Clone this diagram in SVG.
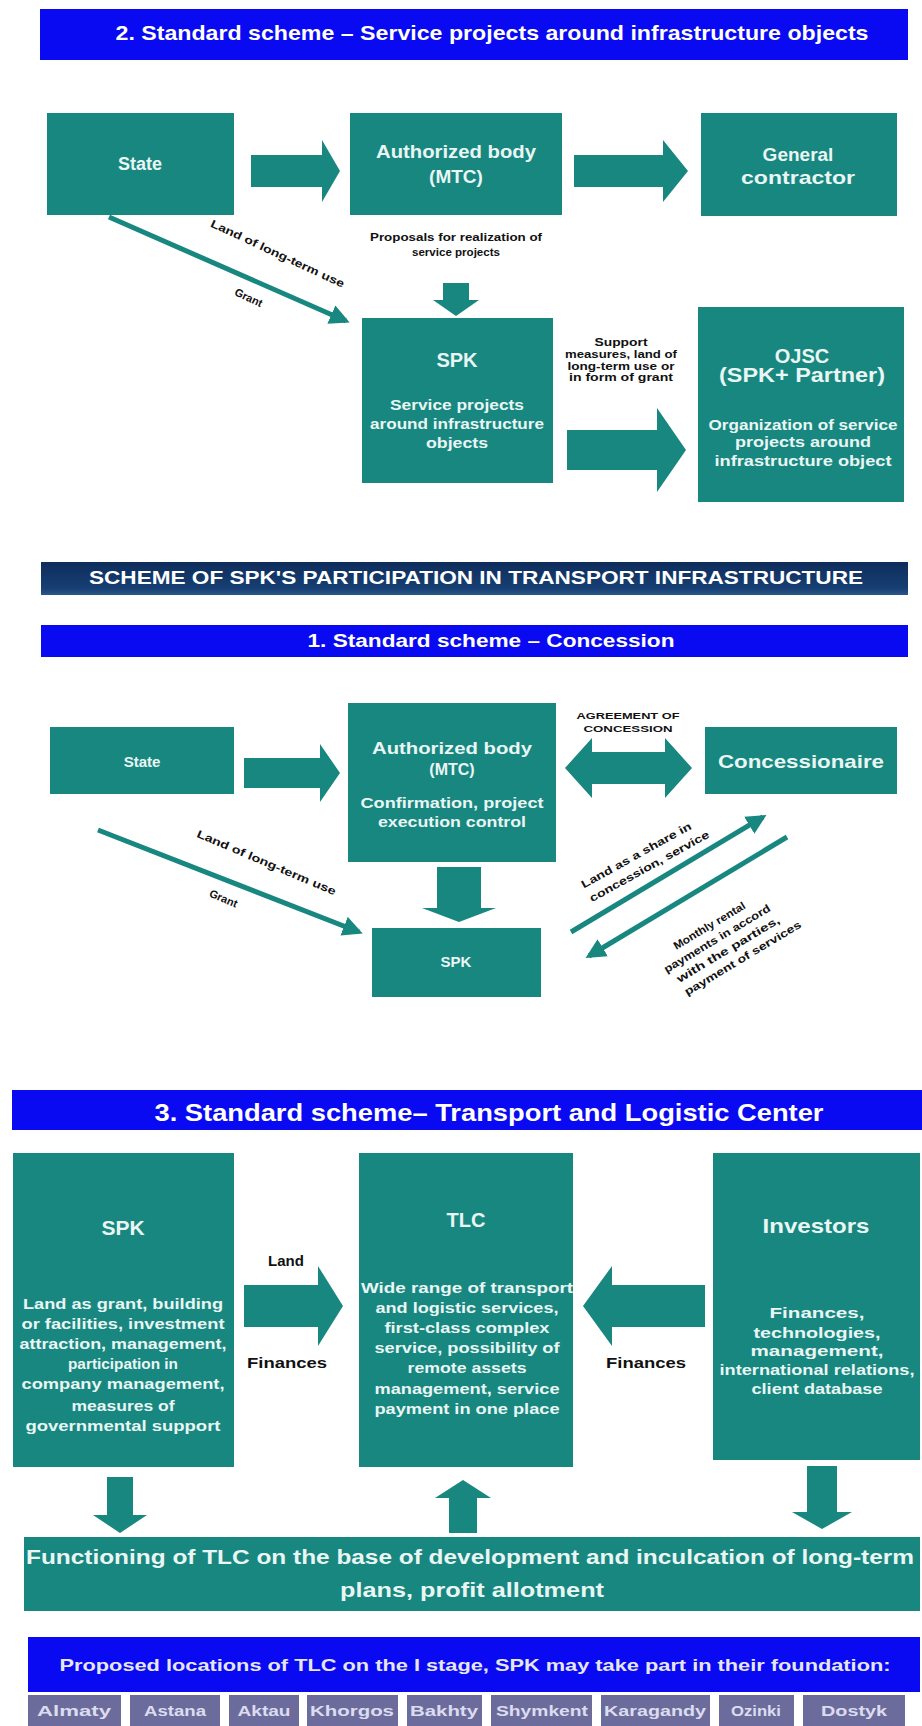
<svg xmlns="http://www.w3.org/2000/svg" width="922" height="1726" viewBox="0 0 922 1726">
  <defs>
    <style>
      text { font-family: "Liberation Sans", Arial, sans-serif; font-weight: bold; }
      .box { fill: #178780; }
      .blk { fill: #178780; }
      .bar { fill: #0a0af2; }
      .city { fill: #6c6c9c; }
      .wt { fill: #ffffff; text-anchor: middle; }
      .bt { fill: #eaf6f4; text-anchor: middle; }
      .lb { fill: #111111; text-anchor: middle; }
      .ct { fill: #dcdcf0; text-anchor: middle; font-size: 15px; }
      .ln { stroke: #178780; stroke-width: 5; fill: none; marker-end: url(#head); }
    </style>
    <marker id="head" viewBox="0 0 10 10" refX="8" refY="5" markerWidth="4" markerHeight="4" orient="auto">
      <path d="M0,0 L10,5 L0,10 z" fill="#178780"/>
    </marker>
    <linearGradient id="navy" x1="0" y1="0" x2="0" y2="1">
      <stop offset="0" stop-color="#0e2d5c"/>
      <stop offset="0.8" stop-color="#173f73"/>
      <stop offset="1" stop-color="#2a5688"/>
    </linearGradient>
  </defs>

  <rect width="922" height="1726" fill="#ffffff"/>

  <!-- ===== Scheme 2: service projects ===== -->
  <g id="title-scheme2">
    <rect class="bar" x="40" y="9" width="868" height="51"/>
    <text class="wt" x="492" y="40" font-size="21" textLength="753" lengthAdjust="spacingAndGlyphs">2.  Standard scheme – Service projects around infrastructure objects</text>
  </g>
  <g id="s2-state">
    <rect class="box" x="47" y="113" width="187" height="102"/>
    <text class="bt" x="140" y="170" font-size="18">State</text>
  </g>
  <g id="s2-mtc">
    <rect class="box" x="350" y="113" width="212" height="102"/>
    <text class="bt" x="456" y="158" font-size="19" textLength="160" lengthAdjust="spacingAndGlyphs">Authorized body</text>
    <text class="bt" x="456" y="183" font-size="19">(MTC)</text>
  </g>
  <g id="s2-contractor">
    <rect class="box" x="701" y="113" width="196" height="103"/>
    <text class="bt" x="798" y="161" font-size="19">General</text>
    <text class="bt" x="798" y="184" font-size="19" textLength="114" lengthAdjust="spacingAndGlyphs">contractor</text>
  </g>
  <g id="s2-spk">
    <rect class="box" x="362" y="318" width="191" height="165"/>
    <text class="bt" x="457" y="367" font-size="20">SPK</text>
    <text class="bt" x="457" y="410" font-size="15" textLength="134" lengthAdjust="spacingAndGlyphs">Service projects</text>
    <text class="bt" x="457" y="429" font-size="15" textLength="174" lengthAdjust="spacingAndGlyphs">around infrastructure</text>
    <text class="bt" x="457" y="448" font-size="15" textLength="62" lengthAdjust="spacingAndGlyphs">objects</text>
  </g>
  <g id="s2-ojsc">
    <rect class="box" x="698" y="307" width="206" height="195"/>
    <text class="bt" x="802" y="363" font-size="20">OJSC</text>
    <text class="bt" x="802" y="382" font-size="20" textLength="166" lengthAdjust="spacingAndGlyphs">(SPK+ Partner)</text>
    <text class="bt" x="803" y="430" font-size="15" textLength="189" lengthAdjust="spacingAndGlyphs">Organization of service</text>
    <text class="bt" x="803" y="447" font-size="15" textLength="136" lengthAdjust="spacingAndGlyphs">projects around</text>
    <text class="bt" x="803" y="466" font-size="15" textLength="177" lengthAdjust="spacingAndGlyphs">infrastructure object</text>
  </g>
  <g id="s2-connectors">
    <polygon class="blk" points="251,155 322,155 322,140 340,171 322,202 322,187 251,187"/>
    <polygon class="blk" points="574,155 663,155 663,140 688,171 663,202 663,187 574,187"/>
    <polygon class="blk" points="443,283 469,283 469,300 479,300 456,316 433,300 443,300"/>
    <polygon class="blk" points="567,430 657,430 657,408 686,450 657,492 657,470 567,470"/>
    <line class="ln" x1="109" y1="217" x2="346" y2="321"/>
    <text class="lb" font-size="11" transform="translate(276 257) rotate(25)" textLength="146" lengthAdjust="spacingAndGlyphs">Land of long-term use</text>
    <text class="lb" font-size="11" transform="translate(247 301) rotate(25)">Grant</text>
    <text class="lb" x="456" y="241" font-size="10" textLength="172" lengthAdjust="spacingAndGlyphs">Proposals for realization of</text>
    <text class="lb" x="456" y="256" font-size="10" textLength="88" lengthAdjust="spacingAndGlyphs">service projects</text>
    <text class="lb" x="621" y="346" font-size="11" textLength="53" lengthAdjust="spacingAndGlyphs">Support</text>
    <text class="lb" x="621" y="358" font-size="11" textLength="112" lengthAdjust="spacingAndGlyphs">measures, land of</text>
    <text class="lb" x="621" y="370" font-size="11" textLength="107" lengthAdjust="spacingAndGlyphs">long-term use or</text>
    <text class="lb" x="621" y="381" font-size="11" textLength="104" lengthAdjust="spacingAndGlyphs">in form of grant</text>
  </g>

  <!-- ===== Participation scheme / Scheme 1: concession ===== -->
  <g id="title-main">
    <rect x="41" y="562" width="867" height="33" fill="url(#navy)"/>
    <text class="wt" x="476" y="584" font-size="18" textLength="774" lengthAdjust="spacingAndGlyphs">SCHEME OF SPK'S PARTICIPATION IN TRANSPORT INFRASTRUCTURE</text>
  </g>
  <g id="title-scheme1">
    <rect class="bar" x="41" y="625" width="867" height="32"/>
    <text class="wt" x="491" y="647" font-size="18" textLength="367" lengthAdjust="spacingAndGlyphs">1.  Standard scheme – Concession</text>
  </g>
  <g id="s1-state">
    <rect class="box" x="50" y="727" width="184" height="67"/>
    <text class="bt" x="142" y="767" font-size="15">State</text>
  </g>
  <g id="s1-mtc">
    <rect class="box" x="348" y="703" width="208" height="159"/>
    <text class="bt" x="452" y="754" font-size="17" textLength="160" lengthAdjust="spacingAndGlyphs">Authorized body</text>
    <text class="bt" x="452" y="775" font-size="16">(MTC)</text>
    <text class="bt" x="452" y="808" font-size="15" textLength="183" lengthAdjust="spacingAndGlyphs">Confirmation, project</text>
    <text class="bt" x="452" y="827" font-size="15" textLength="148" lengthAdjust="spacingAndGlyphs">execution control</text>
  </g>
  <g id="s1-concessionaire">
    <rect class="box" x="705" y="727" width="192" height="67"/>
    <text class="bt" x="801" y="768" font-size="19" textLength="166" lengthAdjust="spacingAndGlyphs">Concessionaire</text>
  </g>
  <g id="s1-spk">
    <rect class="box" x="372" y="928" width="169" height="69"/>
    <text class="bt" x="456" y="967" font-size="15">SPK</text>
  </g>
  <g id="s1-connectors">
    <polygon class="blk" points="244,758 320,758 320,744 340,773 320,802 320,788 244,788"/>
    <polygon class="blk" points="565,768 592,738 592,752 665,752 665,738 692,768 665,798 665,784 592,784 592,798"/>
    <polygon class="blk" points="437,867 481,867 481,908 496,908 459,922 422,908 437,908"/>
    <line class="ln" x1="98" y1="830" x2="359" y2="932"/>
    <line class="ln" x1="571" y1="932" x2="763" y2="817"/>
    <line class="ln" x1="787" y1="837" x2="589" y2="956"/>
    <text class="lb" x="628" y="719" font-size="9" textLength="103" lengthAdjust="spacingAndGlyphs">AGREEMENT OF</text>
    <text class="lb" x="628" y="732" font-size="9" textLength="89" lengthAdjust="spacingAndGlyphs">CONCESSION</text>
    <text class="lb" font-size="11" transform="translate(265 866) rotate(23)" textLength="150" lengthAdjust="spacingAndGlyphs">Land of long-term use</text>
    <text class="lb" font-size="11" transform="translate(222 902) rotate(23)">Grant</text>
    <g transform="translate(640 862) rotate(-29)">
      <text class="lb" x="0" y="-4" font-size="11" textLength="124" lengthAdjust="spacingAndGlyphs">Land as a share in</text>
      <text class="lb" x="6" y="12" font-size="11" textLength="135" lengthAdjust="spacingAndGlyphs">concession, service</text>
    </g>
    <g transform="translate(725 944) rotate(-31)">
      <text class="lb" x="-4" y="-20" font-size="11" textLength="82" lengthAdjust="spacingAndGlyphs">Monthly rental</text>
      <text class="lb" x="-4" y="-5" font-size="11" textLength="122" lengthAdjust="spacingAndGlyphs">payments in accord</text>
      <text class="lb" x="0" y="10" font-size="11" textLength="118" lengthAdjust="spacingAndGlyphs">with the parties,</text>
      <text class="lb" x="8" y="25" font-size="11" textLength="134" lengthAdjust="spacingAndGlyphs">payment of services</text>
    </g>
  </g>

  <!-- ===== Scheme 3: transport and logistic center ===== -->
  <g id="title-scheme3">
    <rect class="bar" x="12" y="1090" width="910" height="40"/>
    <text class="wt" x="489" y="1121" font-size="24" textLength="669" lengthAdjust="spacingAndGlyphs">3. Standard scheme– Transport and Logistic Center</text>
  </g>
  <g id="s3-spk">
    <rect class="box" x="13" y="1153" width="221" height="314"/>
    <text class="bt" x="123" y="1235" font-size="21">SPK</text>
    <text class="bt" x="123" y="1309" font-size="15" textLength="200" lengthAdjust="spacingAndGlyphs">Land as grant, building</text>
    <text class="bt" x="123" y="1329" font-size="15" textLength="203" lengthAdjust="spacingAndGlyphs">or facilities, investment</text>
    <text class="bt" x="123" y="1349" font-size="15" textLength="207" lengthAdjust="spacingAndGlyphs">attraction, management,</text>
    <text class="bt" x="123" y="1369" font-size="15" textLength="110" lengthAdjust="spacingAndGlyphs">participation in</text>
    <text class="bt" x="123" y="1389" font-size="15" textLength="203" lengthAdjust="spacingAndGlyphs">company management,</text>
    <text class="bt" x="123" y="1411" font-size="15" textLength="103" lengthAdjust="spacingAndGlyphs">measures of</text>
    <text class="bt" x="123" y="1431" font-size="15" textLength="195" lengthAdjust="spacingAndGlyphs">governmental support</text>
  </g>
  <g id="s3-tlc">
    <rect class="box" x="359" y="1153" width="214" height="314"/>
    <text class="bt" x="466" y="1227" font-size="20">TLC</text>
    <text class="bt" x="467" y="1293" font-size="15" textLength="212" lengthAdjust="spacingAndGlyphs">Wide range of transport</text>
    <text class="bt" x="467" y="1313" font-size="15" textLength="183" lengthAdjust="spacingAndGlyphs">and logistic services,</text>
    <text class="bt" x="467" y="1333" font-size="15" textLength="165" lengthAdjust="spacingAndGlyphs">first-class complex</text>
    <text class="bt" x="467" y="1353" font-size="15" textLength="185" lengthAdjust="spacingAndGlyphs">service, possibility of</text>
    <text class="bt" x="467" y="1373" font-size="15" textLength="119" lengthAdjust="spacingAndGlyphs">remote assets</text>
    <text class="bt" x="467" y="1394" font-size="15" textLength="185" lengthAdjust="spacingAndGlyphs">management, service</text>
    <text class="bt" x="467" y="1414" font-size="15" textLength="185" lengthAdjust="spacingAndGlyphs">payment in one place</text>
  </g>
  <g id="s3-investors">
    <rect class="box" x="713" y="1153" width="207" height="307"/>
    <text class="bt" x="816" y="1233" font-size="21" textLength="107" lengthAdjust="spacingAndGlyphs">Investors</text>
    <text class="bt" x="817" y="1318" font-size="15" textLength="95" lengthAdjust="spacingAndGlyphs">Finances,</text>
    <text class="bt" x="817" y="1338" font-size="15" textLength="127" lengthAdjust="spacingAndGlyphs">technologies,</text>
    <text class="bt" x="817" y="1356" font-size="15" textLength="133" lengthAdjust="spacingAndGlyphs">management,</text>
    <text class="bt" x="817" y="1375" font-size="15" textLength="195" lengthAdjust="spacingAndGlyphs">international relations,</text>
    <text class="bt" x="817" y="1394" font-size="15" textLength="131" lengthAdjust="spacingAndGlyphs">client database</text>
  </g>
  <g id="s3-functioning">
    <rect class="box" x="24" y="1537" width="896" height="74"/>
    <text class="bt" x="470" y="1564" font-size="21" textLength="888" lengthAdjust="spacingAndGlyphs">Functioning of TLC on the base of development and inculcation of long-term</text>
    <text class="bt" x="472" y="1597" font-size="21" textLength="264" lengthAdjust="spacingAndGlyphs">plans, profit allotment</text>
  </g>
  <g id="s3-locations">
    <rect class="bar" x="28" y="1637" width="892" height="55"/>
    <text x="475" y="1671" font-size="17" fill="#e6e6f2" text-anchor="middle" textLength="831" lengthAdjust="spacingAndGlyphs">Proposed locations of TLC on the I stage, SPK may take part in their foundation:</text>
  </g>
  <g id="s3-cities">
    <rect class="city" x="28" y="1695" width="93" height="31"/>
    <text class="ct" x="74" y="1716" textLength="74" lengthAdjust="spacingAndGlyphs">Almaty</text>
    <rect class="city" x="130" y="1695" width="90" height="31"/>
    <text class="ct" x="175" y="1716" textLength="62" lengthAdjust="spacingAndGlyphs">Astana</text>
    <rect class="city" x="229" y="1695" width="70" height="31"/>
    <text class="ct" x="264" y="1716" textLength="53" lengthAdjust="spacingAndGlyphs">Aktau</text>
    <rect class="city" x="307" y="1695" width="91" height="31"/>
    <text class="ct" x="352" y="1716" textLength="84" lengthAdjust="spacingAndGlyphs">Khorgos</text>
    <rect class="city" x="407" y="1695" width="75" height="31"/>
    <text class="ct" x="444" y="1716" textLength="68" lengthAdjust="spacingAndGlyphs">Bakhty</text>
    <rect class="city" x="491" y="1695" width="101" height="31"/>
    <text class="ct" x="542" y="1716" textLength="92" lengthAdjust="spacingAndGlyphs">Shymkent</text>
    <rect class="city" x="601" y="1695" width="109" height="31"/>
    <text class="ct" x="655" y="1716" textLength="102" lengthAdjust="spacingAndGlyphs">Karagandy</text>
    <rect class="city" x="719" y="1695" width="75" height="31"/>
    <text class="ct" x="756" y="1716" textLength="50" lengthAdjust="spacingAndGlyphs">Ozinki</text>
    <rect class="city" x="803" y="1695" width="102" height="31"/>
    <text class="ct" x="854" y="1716" textLength="66" lengthAdjust="spacingAndGlyphs">Dostyk</text>
  </g>
  <g id="s3-connectors">
    <polygon class="blk" points="244,1285 318,1285 318,1266 343,1306 318,1346 318,1327 244,1327"/>
    <polygon class="blk" points="705,1285 612,1285 612,1266 583,1306 612,1346 612,1327 705,1327"/>
    <polygon class="blk" points="107,1477 133,1477 133,1515 147,1515 120,1533 93,1515 107,1515"/>
    <polygon class="blk" points="449,1533 477,1533 477,1498 491,1498 463,1480 435,1498 449,1498"/>
    <polygon class="blk" points="807,1466 837,1466 837,1512 852,1512 822,1529 792,1512 807,1512"/>
    <text class="lb" x="286" y="1266" font-size="15">Land</text>
    <text class="lb" x="287" y="1368" font-size="15" textLength="80" lengthAdjust="spacingAndGlyphs">Finances</text>
    <text class="lb" x="646" y="1368" font-size="15" textLength="80" lengthAdjust="spacingAndGlyphs">Finances</text>
  </g>
</svg>
